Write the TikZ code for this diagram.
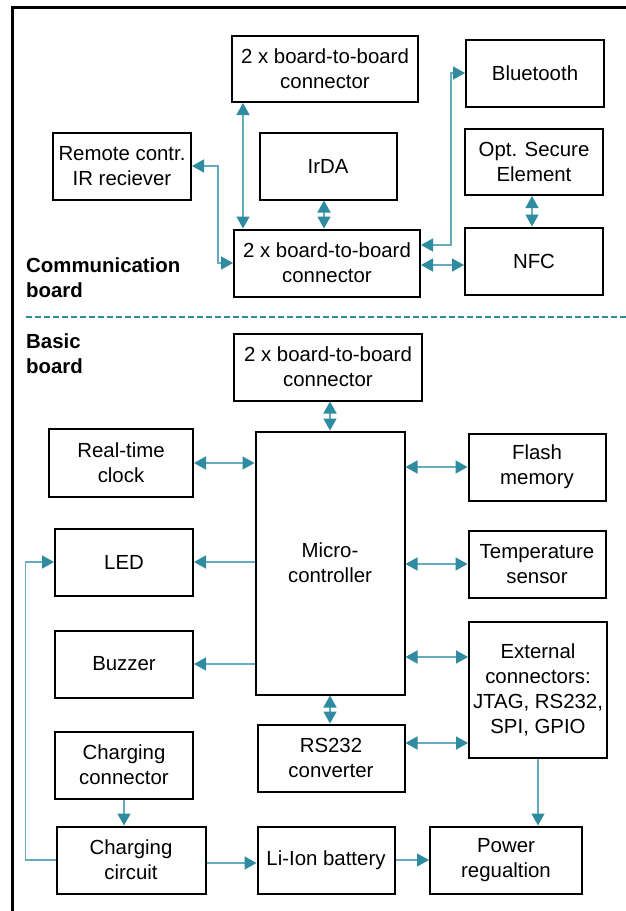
\documentclass[tikz,border=0pt]{standalone}
\usepackage{fontspec}
\setmainfont{Liberation Sans}
\usepackage{tikz}
\usetikzlibrary{positioning, arrows.meta, calc}
\usepackage{xcolor}
\definecolor{linkc}{RGB}{46,139,160}
\definecolor{linkl}{RGB}{100,172,190}

\begin{document}
\begin{tikzpicture}[
  x=1pt, y=-1pt,
  blk/.style={draw, line width=2pt, inner sep=0pt, align=center,
              minimum width=138pt, minimum height=67pt,
              font=\fontsize{20.4}{25}\selectfont},
  lbl/.style={anchor=north west, inner sep=0pt, align=left,
              font=\fontsize{20.4}{25}\selectfont\bfseries},
  one/.style={-{Triangle[length=12pt, width=13pt, color=linkc]}, linkl, line width=1.6pt},
  dbl/.style={{Triangle[length=12pt, width=13pt, color=linkc]}-{Triangle[length=12pt, width=13pt, color=linkc]}, linkl, line width=1.6pt}
]
\useasboundingbox (0,0) rectangle (626,911);

% frame
\draw[line width=3pt] (12,911) -- (12,7) -- (626,7);
\draw[linkc, line width=2pt, dash pattern=on 6pt off 3pt] (26,317) -- (626,317);

% communication board
\node[blk, minimum width=186pt, minimum height=66pt] (b2bT) at (325,69) {2 x board-to-board\\connector};
\node[blk] (bt) at (535,73) {Bluetooth};
\node[blk] (remote) at (122,166) {Remote contr.\\IR reciever};
\node[blk, minimum width=137pt] (irda) at (328,166) {IrDA};
\node[blk, minimum height=66pt] (ose) at (534,162) {Opt. Secure\\Element};
\node[blk, minimum width=186pt] (b2bC) at (327,263) {2 x board-to-board\\connector};
\node[blk] (nfc) at (534,261) {NFC};
\node[lbl] (comlbl) at (26,258) {Communication\\board};

% basic board
\node[lbl] (baslbl) at (26,334) {Basic\\board};
\node[blk, minimum width=188pt] (b2bB) at (328,367) {2 x board-to-board\\connector};
\node[blk, minimum width=144pt, minimum height=68pt] (rtc) at (121,463) {Real-time\\clock};
\node[blk, minimum width=149pt, minimum height=263pt] (mcu) at (330,563) {Micro-\\controller};
\node[blk, minimum width=137pt] (flash) at (537,467) {Flash\\memory};
\node[blk] (led) at (124,562) {LED};
\node[blk, minimum width=137pt] (temp) at (537,564) {Temperature\\sensor};
\node[blk] (buzz) at (124,664) {Buzzer};
\node[blk, minimum height=136pt] (ext) at (538,690) {External\\connectors:\\JTAG, RS232,\\SPI, GPIO};
\node[blk, minimum width=147pt] (rs) at (331,758) {RS232\\converter};
\node[blk] (chgcon) at (124,765) {Charging\\connector};
\node[blk, minimum width=149pt] (chgcir) at (131,860) {Charging\\circuit};
\node[blk, minimum width=137pt] (bat) at (326,860) {Li-Ion battery};
\node[blk, minimum width=152pt] (pwr) at (506,860) {Power\\regualtion};

% links, communication board
\draw[dbl] ([xshift=12pt]b2bT.south west) -- ([xshift=12pt]b2bT.south west |- b2bC.north);
\draw[dbl] (remote.east) -- ++(26,0) |- (b2bC.west);
\draw[dbl] ([xshift=-4pt]irda.south) -- ([xshift=-4pt]irda.south |- b2bC.north);
\draw[dbl] ([yshift=18pt]b2bC.east) -- ++(30,0) |- (bt.west);
\draw[dbl] ([yshift=-2pt]b2bC.east) -- ([yshift=-2pt]b2bC.east -| nfc.west);
\draw[dbl] ([xshift=-2pt]ose.south) -- ([xshift=-2pt]ose.south |- nfc.north);

% links, basic board
\draw[dbl] (mcu.north |- b2bB.south) -- (mcu.north);
\draw[dbl] (rtc.east) -- (rtc.east -| mcu.west);
\draw[dbl] (flash.west -| mcu.east) -- (flash.west);
\draw[one] (led.east -| mcu.west) -- (led.east);
\draw[dbl] (temp.west -| mcu.east) -- (temp.west);
\draw[one] (buzz.east -| mcu.west) -- (buzz.east);
\draw[dbl] ([yshift=-36pt]ext.north west -| mcu.east) -- ([yshift=-36pt]ext.north west);
\draw[dbl] (mcu.south) -- (mcu.south |- rs.north);
\draw[dbl] ([yshift=15pt]rs.east) -- ([yshift=15pt]rs.east -| ext.west);
\draw[one] (ext.south) -- (ext.south |- pwr.north);
\draw[one] (chgcon.south) -- (chgcon.south |- chgcir.north);
\draw[one] (chgcir.west) -- ++(-30,0) |- (led.west);
\draw[one] ([yshift=-3pt]chgcir.east) -- ([yshift=-3pt]chgcir.east -| bat.west);
\draw[one] (bat.east) -- (pwr.west);
\end{tikzpicture}
\end{document}
